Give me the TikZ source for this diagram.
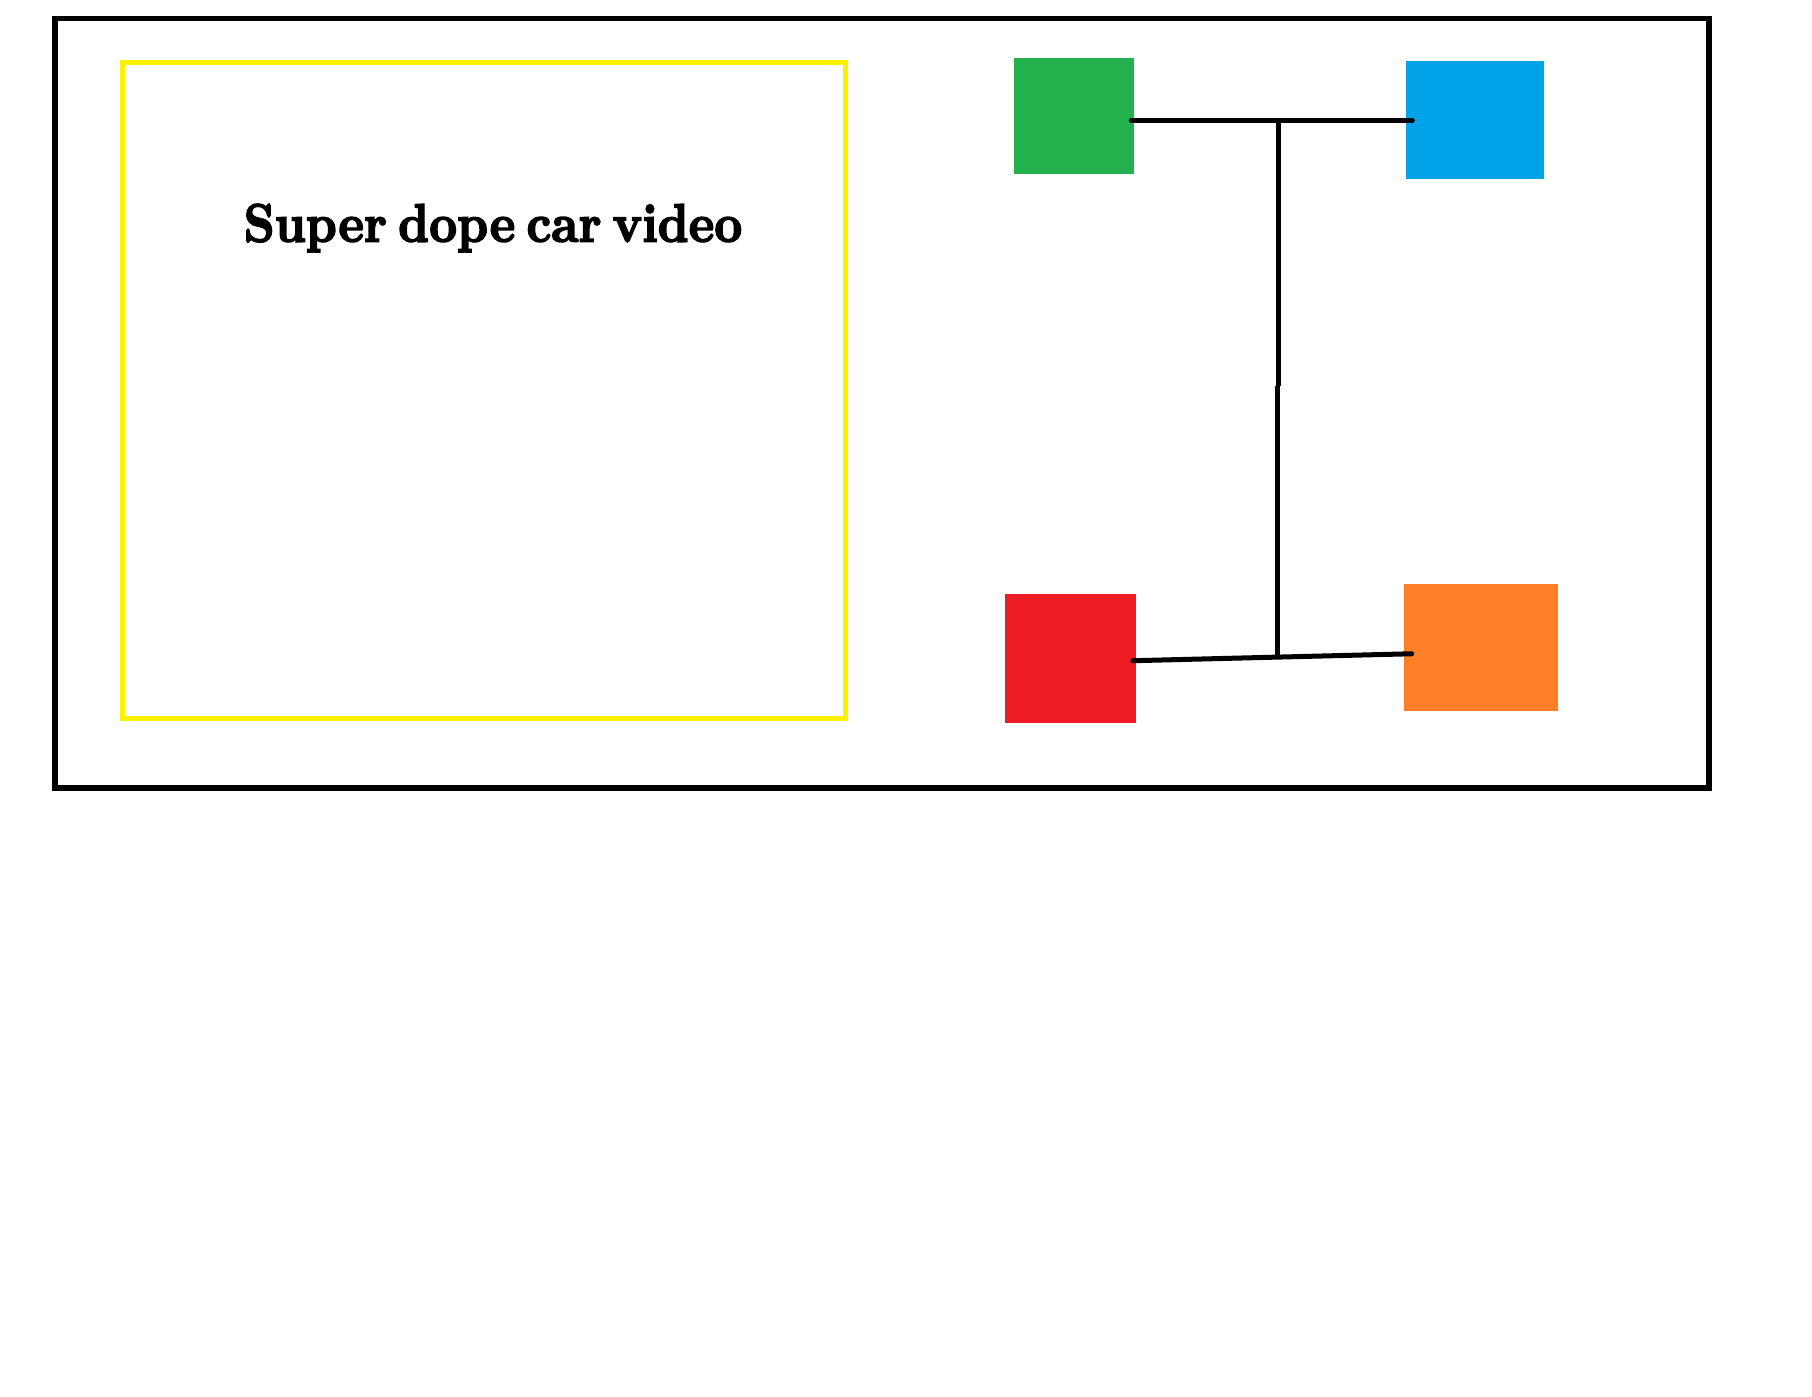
\documentclass[tikz,border=0pt]{standalone}
\usepackage{fontspec}
\usepackage{graphicx}
\newfontfamily\titlefont{lmroman10-bold.otf}[FakeBold=3, WordSpace=0.6]
\definecolor{paintgreen}{HTML}{22B14C}
\definecolor{paintblue}{HTML}{00A2E8}
\definecolor{paintred}{HTML}{ED1C24}
\definecolor{paintorange}{HTML}{FF7F27}
\definecolor{paintyellow}{HTML}{FFF200}
\tikzset{
	block/.style={rectangle, inner sep=0pt, outer sep=0pt, draw=none},
	wire/.style={line width=0.05cm, line cap=round}
}

\begin{document}
\begin{tikzpicture}[x=0.01cm, y=-0.01cm]
	
	\useasboundingbox (0,0) rectangle (1812,1396);
	
	% frames
	\node[block, draw=black, line width=0.055cm, minimum width=16.532cm, minimum height=7.695cm] (page) at (882.1,403.25) {};
	\node[block, draw=paintyellow, line width=0.05cm, minimum width=7.223cm, minimum height=6.557cm] (video) at (483.65,390.15) {};
	\node[anchor=base, inner sep=0pt] (title) at (493,241.6) {\scalebox{0.9}[1]{\fontsize{15.35}{18}\titlefont Super dope car video}};
	
	% boxes
	\node[block, fill=paintgreen, minimum width=1.204cm, minimum height=1.162cm] (green) at (1074,116.1) {};
	\node[block, fill=paintblue, minimum width=1.386cm, minimum height=1.177cm] (blue) at (1475,120.05) {};
	\node[block, fill=paintred, minimum width=1.308cm, minimum height=1.292cm] (red) at (1070.4,658.7) {};
	\node[block, fill=paintorange, minimum width=1.539cm, minimum height=1.271cm] (orange) at (1481,647.75) {};
	
	\coordinate (topjoin) at (1278.2,120.3);
	\coordinate (midjoin) at (1278.2,386);
	\coordinate (botjoin) at (1277.1,655);
	
	\draw[wire] ([shift={(-3,4.2)}]green.east) -- ([shift={(6.6,0.25)}]blue.west);
	\draw[wire] ([shift={(-3,2)}]red.east) -- ([shift={(7.7,6)}]orange.west);
	\draw[wire, line cap=butt] (topjoin) -- (midjoin) (midjoin -| botjoin) -- (botjoin);
	 
\end{tikzpicture}
\end{document}
